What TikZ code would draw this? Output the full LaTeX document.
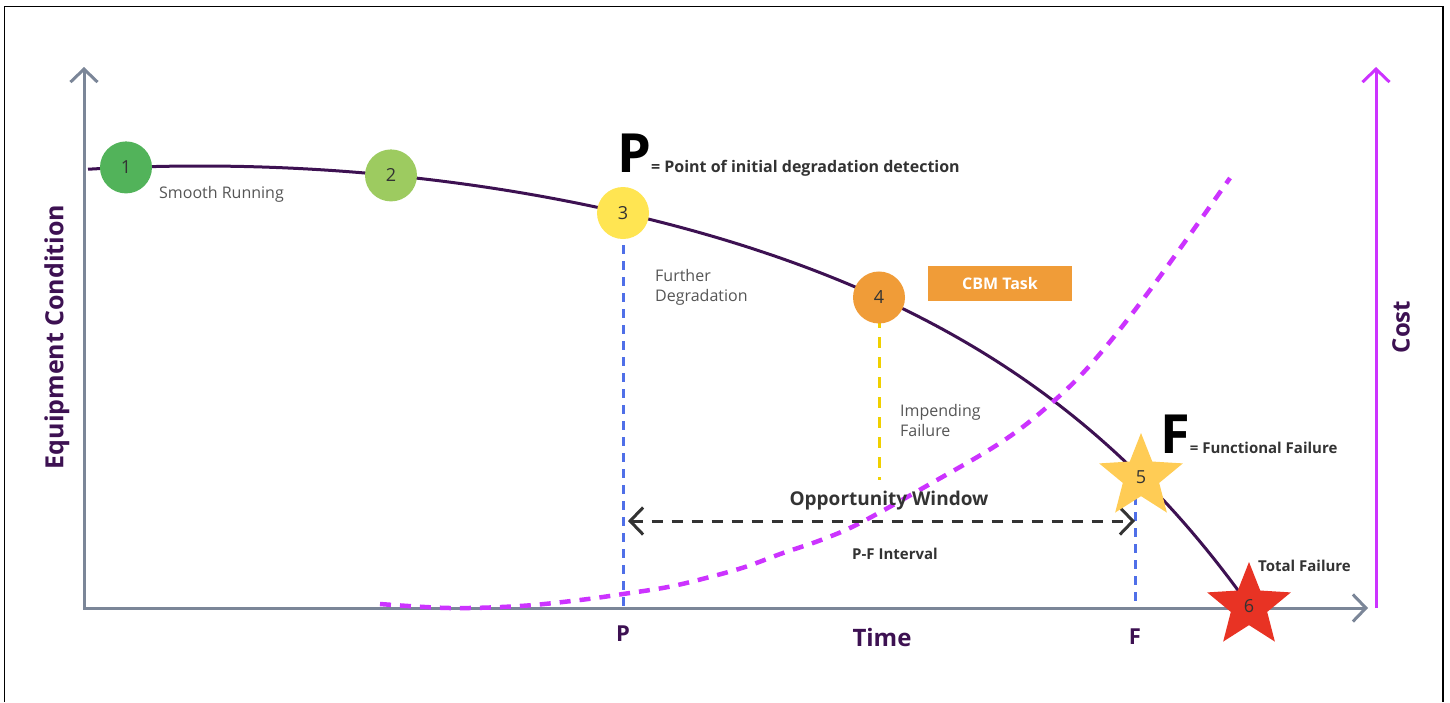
\documentclass[tikz,border=0pt]{standalone}
\usepackage{fontspec}
\setmainfont{Open Sans}
\usetikzlibrary{arrows.meta,shapes.geometric}
\definecolor{deeppurple}{HTML}{3D1152}
\definecolor{axisgray}{HTML}{7B8698}
\definecolor{costmag}{HTML}{CC33FF}
\definecolor{dashblue}{HTML}{4F6FE8}
\definecolor{dashyellow}{HTML}{F0D000}
\definecolor{cgreen}{HTML}{52B35A}
\definecolor{clime}{HTML}{9DCB60}
\definecolor{cyellow}{HTML}{FFE552}
\definecolor{corange}{HTML}{F09C38}
\definecolor{sgold}{HTML}{FFCC55}
\definecolor{sred}{HTML}{E83324}
\definecolor{txtdark}{HTML}{333333}
\definecolor{txtgray}{HTML}{555555}
\tikzset{
  chev/.tip={Straight Barb[length=13pt,width=27pt]},
  axisline/.style={draw=axisgray,line width=3pt,line join=miter},
  mcurve/.style={draw=deeppurple,line width=3pt},
  costcurve/.style={draw=costmag,line width=4.5pt,dash pattern=on 11pt off 9pt},
  bluedash/.style={draw=dashblue,line width=3pt,dash pattern=on 9pt off 7pt},
  yeldash/.style={draw=dashyellow,line width=3pt,dash pattern=on 11pt off 9pt},
  pfarrow/.style={draw=txtdark,line width=3pt,dash pattern=on 11pt off 9pt,chev-chev},
  stage/.style={circle,minimum size=52pt,inner sep=0pt,draw=none,text=txtdark,font=\fontsize{18}{18}\selectfont},
  starnode/.style={star,star points=5,star point ratio=2.3,minimum size=88pt,inner sep=0pt,draw=none,text=txtdark,font=\fontsize{18}{18}\selectfont},
  axislabel/.style={text=deeppurple,font=\fontsize{24}{24}\selectfont\bfseries,inner sep=0pt},
  smalltext/.style={text=txtgray,font=\fontsize{16}{20}\selectfont,inner sep=0pt},
  boldtext/.style={text=txtdark,font=\fontsize{15}{15}\selectfont\bfseries,inner sep=0pt},
}
\begin{document}
\begin{tikzpicture}[x=1pt,y=-1pt,
  declare function={condv(\x)=(\x-200)/100; cond(\x)=166+2.573*condv(\x)*condv(\x)+(condv(\x)/5.49)^4+(condv(\x)/4.587)^6;}]
\useasboundingbox (0,0) rectangle (1450,702);
% frame (open at bottom)
\draw[black,line width=1.5pt] (4.5,702) -- (4.5,6.5) -- (1443,6.5) -- (1443,702);

% key coordinates
\coordinate (ytop) at (84,67);
\coordinate (O) at (84,608);
\coordinate (xend) at (1368,608);
\coordinate (ctop) at (1376,67);
\coordinate (cbot) at (1376,608);
\coordinate (p1) at (126,{cond(126)});
\coordinate (p2) at (391,{cond(391)});
\coordinate (p3) at (623,{cond(623)});
\coordinate (p4) at (879,{cond(879)});
\coordinate (p5) at (1141,{cond(1141)});
\coordinate (p6) at (1249,606);
\coordinate (Pax) at (623,608);
\coordinate (Fax) at (1135,608);
\coordinate (Ftop) at (1135,480);
\coordinate (yend) at (879,480);
\coordinate (pfL) at (628,521);
\coordinate (pfR) at (1135,521);

% axes
\draw[axisline,chev-chev] (ytop) -- (O) -- (xend);
\draw[draw=costmag,line width=3pt,-chev] (cbot) -- (ctop);

% vertical dashed markers
\draw[bluedash] (p3) -- (Pax);
\draw[bluedash] (Ftop) -- (Fax);
\draw[yeldash] (p4) -- (yend);

% main condition curve
\draw[mcurve] plot[domain=88:1245,samples=150,variable=\t] (\t,{cond(\t)});

% cost curve
\draw[costcurve] plot[smooth,tension=0.6] coordinates {(380,604) (450,608) (520,606) (580,600) (623,594) (668,587) (706,578) (745,567) (783,553) (821,540) (860,523) (930,484) (1000,443) (1047,407) (1092,363) (1150,290) (1230,178)};

% P-F interval arrow
\draw[pfarrow] (pfL) -- (pfR);

% stage markers
\node[stage,fill=cgreen] (c1) at (p1) {1};
\node[stage,fill=clime] (c2) at (p2) {2};
\node[stage,fill=cyellow] (c3) at (p3) {3};
\node[stage,fill=corange] (c4) at (p4) {4};
\node[starnode,fill=sgold] (s5) at (p5) {5};
\node[starnode,fill=sred] (s6) at (p6) {6};

% CBM task box
\node[fill=corange,minimum width=144pt,minimum height=35pt,inner sep=0pt,text=white,font=\fontsize{16}{16}\selectfont\bfseries] (cbm) at (1000,283) {CBM Task};

% texts
\node[smalltext,anchor=west] (smooth) at (159,194) {Smooth Running};
\node[smalltext,anchor=west,align=left] (further) at (655,287) {Further\\Degradation};
\node[smalltext,anchor=west,align=left] (impend) at (900,420) {Impending\\Failure};
\node[anchor=base west,inner sep=0pt] (pdef) at (617,172) {{\fontsize{54}{54}\selectfont\bfseries P}{\color{txtdark}\fontsize{16}{16}\selectfont\bfseries= Point of initial degradation detection}};
\node[anchor=base west,inner sep=0pt] (fdef) at (1160,453) {{\fontsize{54}{54}\selectfont\bfseries F}{\color{txtdark}\fontsize{15}{15}\selectfont\bfseries= Functional Failure}};
\node[boldtext,anchor=west] (total) at (1258,566) {Total Failure};
\node[text=txtdark,font=\fontsize{19}{19}\selectfont\bfseries,inner sep=0pt] (opp) at (889,501) {Opportunity Window};
\node[boldtext] (pfint) at (895,554) {P-F Interval};

% axis labels
\node[axislabel,rotate=90,font=\fontsize{25}{25}\selectfont\bfseries] (ylab) at (57,337) {Equipment Condition};
\node[axislabel,rotate=90] (clab) at (1401,327) {Cost};
\node[axislabel] (tlab) at (882,637) {Time};
\node[axislabel,font=\fontsize{22}{22}\selectfont\bfseries] (plab) at (623,634) {P};
\node[axislabel,font=\fontsize{22}{22}\selectfont\bfseries] (flab) at (1135,637) {F};
\end{tikzpicture}
\end{document}
